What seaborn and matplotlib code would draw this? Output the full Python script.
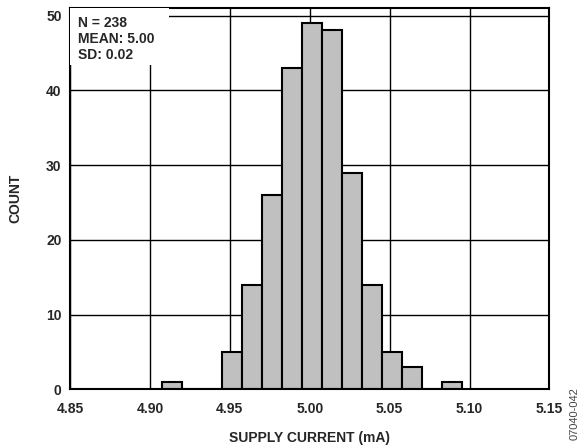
import matplotlib
matplotlib.use("Agg")
import matplotlib.pyplot as plt
import seaborn as sns
from matplotlib.patches import Rectangle

# histogram bins (mA) and counts
bin_edges = [4.9075, 4.92, 4.9325, 4.945, 4.9575, 4.97, 4.9825, 4.995,
             5.0075, 5.02, 5.0325, 5.045, 5.0575, 5.07, 5.0825, 5.095]
counts = [1, 0, 0, 5, 14, 26, 43, 49, 48, 29, 14, 5, 3, 0, 1]
bin_centers = [(a + b) / 2 for a, b in zip(bin_edges[:-1], bin_edges[1:])]

x_ticks = [4.85, 4.90, 4.95, 5.00, 5.05, 5.10, 5.15]
y_ticks = [0, 10, 20, 30, 40, 50]
stats_text = "N = 238\nMEAN: 5.00\nSD: 0.02"

sns.set_style("white")
plt.rcParams["font.family"] = ["Liberation Sans", "DejaVu Sans"]

fig = plt.figure(figsize=(5.83, 4.48), dpi=100)
ax = fig.add_axes([0.120, 0.131, 0.8225, 0.851])

ax.set_axisbelow(True)
ax.grid(True, color="black", linewidth=1.0)

sns.histplot(x=bin_centers, weights=counts, bins=bin_edges, ax=ax,
             color="#C0C0C0", alpha=1.0, edgecolor="black", linewidth=1.5)

ax.set_xlim(4.85, 5.15)
ax.set_ylim(0, 51)
ax.set_xticks(x_ticks)
ax.set_xticklabels([f"{v:.2f}" for v in x_ticks], fontsize=10, fontweight="bold")
ax.set_yticks(y_ticks)
ax.set_yticklabels([str(v) for v in y_ticks], fontsize=10, fontweight="bold")
ax.tick_params(axis="x", length=0, pad=9)
ax.tick_params(axis="y", length=0, pad=6)
ax.set_xlabel("SUPPLY CURRENT (mA)", fontsize=10, fontweight="bold", labelpad=11)
ax.set_ylabel("COUNT", fontsize=10, fontweight="bold", labelpad=17)

for spine in ax.spines.values():
    spine.set_color("black")
    spine.set_linewidth(1.5)

# white stats box in the top left corner
ax.add_patch(Rectangle((0.0, 0.85), 0.206, 0.15, transform=ax.transAxes,
                       facecolor="white", edgecolor="none", zorder=3))
ax.text(0.017, 0.98, stats_text, transform=ax.transAxes, ha="left", va="top",
        fontsize=10, fontweight="bold", linespacing=1.2, zorder=4)

fig.text(0.986, 0.018, "07040-042", rotation=90, fontsize=8, color="#444444",
         ha="center", va="bottom")

fig.savefig("out.png", dpi=100)
